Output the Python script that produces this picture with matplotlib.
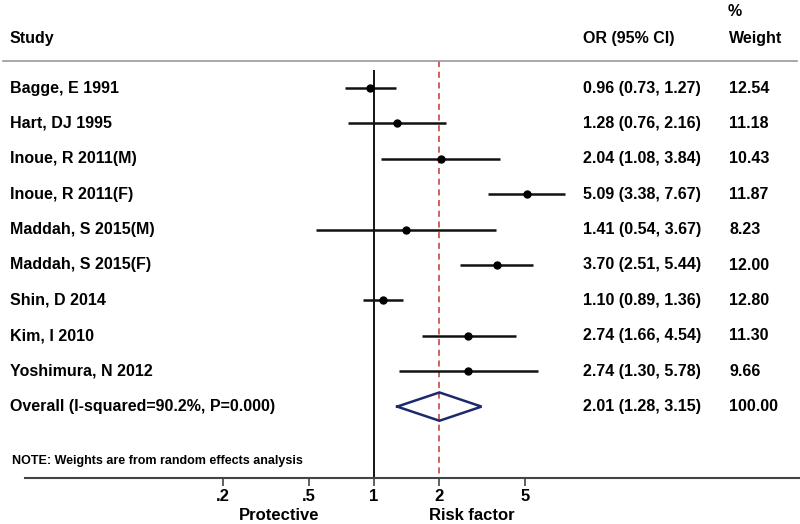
import matplotlib
matplotlib.use("Agg")
import matplotlib.pyplot as plt
import matplotlib.transforms as mtransforms
import numpy as np

plt.rcParams['font.family'] = ['Liberation Sans', 'DejaVu Sans']

studies = ["Bagge, E 1991", "Hart, DJ 1995", "Inoue, R 2011(M)", "Inoue, R 2011(F)",
           "Maddah, S 2015(M)", "Maddah, S 2015(F)", "Shin, D 2014", "Kim, I 2010",
           "Yoshimura, N 2012"]
or_vals = [0.96, 1.28, 2.04, 5.09, 1.41, 3.70, 1.10, 2.74, 2.74]
ci_low = [0.73, 0.76, 1.08, 3.38, 0.54, 2.51, 0.89, 1.66, 1.30]
ci_high = [1.27, 2.16, 3.84, 7.67, 3.67, 5.44, 1.36, 4.54, 5.78]
weights = ["12.54", "11.18", "10.43", "11.87", "8.23", "12.00", "12.80", "11.30", "9.66"]
overall_label = "Overall (I-squared=90.2%, P=0.000)"
overall_or, overall_low, overall_high = 2.01, 1.28, 3.15
overall_weight = "100.00"
tick_vals = [0.2, 0.5, 1, 2, 5]
tick_labels = [".2", ".5", "1", "2", "5"]

W, H = 800, 524
fig = plt.figure(figsize=(W / 100, H / 100), dpi=100)
fig.patch.set_facecolor('white')

def fx(p):
    return p / W

def fy(p):
    return 1 - p / H

ax_top, ax_bot = 61, 478
ax = fig.add_axes([fx(25), fy(ax_bot), (800 - 25) / W, (ax_bot - ax_top) / H])
ax.set_xscale('log')
ax.set_xlim(0.0241, 94.3)
row0, step = 88, 35.4
ax.set_ylim((ax_bot - row0) / step, (ax_top - row0) / step)

fs = 11.5
n = len(studies)
ys = np.arange(n)
oy = n

# null line and overall dashed line
ax.vlines(1, (70 - row0) / step, ax.get_ylim()[0], color='black', lw=1.3, zorder=2)
ax.vlines(overall_or, ax.get_ylim()[1], ax.get_ylim()[0], color='#c0392b', lw=1.1,
          linestyles=(0, (4, 3)), zorder=1)

# CI lines and points
ax.hlines(ys, ci_low, ci_high, color='#111111', lw=1.8, zorder=3)
ax.plot(or_vals, ys, 'o', color='black', ms=5, zorder=4)

# overall diamond
hh = 0.40
dx = [overall_low, overall_or, overall_high, overall_or, overall_low]
dy = [oy, oy - hh, oy, oy + hh, oy]
ax.plot(dx, dy, color='#1c2a6b', lw=1.8, zorder=5, solid_joinstyle='miter')

# axes styling
for s in ['top', 'left', 'right']:
    ax.spines[s].set_visible(False)
ax.spines['bottom'].set_color('#444444')
ax.spines['bottom'].set_linewidth(1.5)
ax.set_yticks([])
ax.set_xticks(tick_vals)
ax.set_xticklabels(tick_labels, fontsize=12, fontweight='bold')
ax.xaxis.set_minor_locator(matplotlib.ticker.NullLocator())
ax.tick_params(axis='x', length=6, width=1.2, color='#444444', pad=2)
ax.patch.set_alpha(0)

# row texts
bt = mtransforms.blended_transform_factory(fig.transFigure, ax.transData)
for i in range(n):
    ax.text(fx(10), ys[i], studies[i], transform=bt, fontsize=fs, fontweight='bold',
            va='center', ha='left')
    ax.text(fx(583), ys[i], f"{or_vals[i]:.2f} ({ci_low[i]:.2f}, {ci_high[i]:.2f})",
            transform=bt, fontsize=fs, fontweight='bold', va='center', ha='left')
    ax.text(fx(729), ys[i], weights[i], transform=bt, fontsize=fs, fontweight='bold',
            va='center', ha='left')
ax.text(fx(10), oy, overall_label, transform=bt, fontsize=fs, fontweight='bold',
        va='center', ha='left')
ax.text(fx(583), oy, f"{overall_or:.2f} ({overall_low:.2f}, {overall_high:.2f})",
        transform=bt, fontsize=fs, fontweight='bold', va='center', ha='left')
ax.text(fx(729), oy, overall_weight, transform=bt, fontsize=fs, fontweight='bold',
        va='center', ha='left')

# headers
fig.text(fx(10), fy(38), "Study", fontsize=fs, fontweight='bold', va='center', ha='left')
fig.text(fx(583), fy(38), "OR (95% CI)", fontsize=fs, fontweight='bold', va='center', ha='left')
fig.text(fx(729), fy(38), "Weight", fontsize=fs, fontweight='bold', va='center', ha='left')
fig.text(fx(728), fy(11), "%", fontsize=fs, fontweight='bold', va='center', ha='left')
fig.add_artist(plt.Line2D([fx(3), fx(797)], [fy(61), fy(61)], color='#999999', lw=1.2,
                          transform=fig.transFigure))

# note
fig.text(fx(12), fy(461), "NOTE: Weights are from random effects analysis", fontsize=9,
         fontweight='bold', va='center', ha='left')

# direction labels
fig.text(fx(279), fy(516), "Protective", fontsize=12, fontweight='bold', va='center', ha='center')
fig.text(fx(472), fy(516), "Risk factor", fontsize=12, fontweight='bold', va='center', ha='center')

fig.savefig("out.png", dpi=100, facecolor='white')
